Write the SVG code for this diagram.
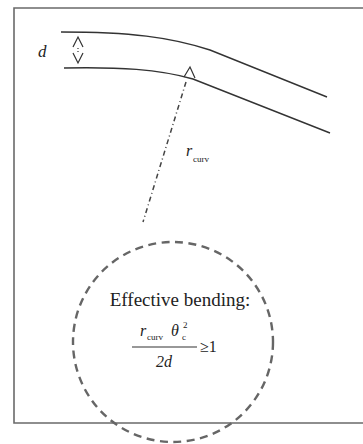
<svg xmlns="http://www.w3.org/2000/svg" width="363" height="444" viewBox="0 0 363 444">
<style>
.frame{fill:none;stroke:#6a6a6a;stroke-width:1.6}
.tube{fill:none;stroke:#333;stroke-width:1.4}
.thin{fill:none;stroke:#333;stroke-width:1.2}
.dashdot{fill:none;stroke:#444;stroke-width:1.5;stroke-dasharray:5 3 1 3}
.zone{fill:none;stroke:#666;stroke-width:2.4;stroke-dasharray:8 5.5}
.t{font-family:"Liberation Serif","Times New Roman",serif;fill:#222}
.i{font-style:italic}
</style>
<rect width="363" height="444" fill="#fff"/>
<g id="frame"><path class="frame" d="M370,8 H14 V423 H370"/></g>
<g id="tube">
<path class="tube" d="M61,32 C130,32 170,37 210,50 L327,97"/>
<path class="tube" d="M64,68 C120,67 158,69 193,79 L330,133"/>
</g>
<g id="width-marker">
<path class="thin" d="M73,47 L78,37 L83,47 M73,53 L78,63 L83,53"/>
<path class="thin" d="M78,48 V52" stroke-dasharray="1 2"/>
<text class="t i" x="38" y="57" font-size="17">d</text>
</g>
<g id="connectors">
<path class="thin" d="M184,77 L190,67 L195,78"/>
<path class="dashdot" d="M186,82 L143,222"/>
</g>
<g id="radius-label">
<text class="t i" x="186" y="156" font-size="16">r</text>
<text class="t" x="193" y="162" font-size="9">curv</text>
</g>
<g id="zone">
<circle class="zone" cx="173" cy="342" r="100"/>
<text class="t" x="180" y="306" font-size="19" text-anchor="middle">Effective bending:</text>
<text class="t i" x="140" y="336" font-size="16">r</text>
<text class="t" x="147" y="340" font-size="9">curv</text>
<text class="t i" x="171" y="336" font-size="16">θ</text>
<text class="t" x="182" y="340" font-size="9">c</text>
<text class="t" x="183" y="328" font-size="9">2</text>
<line x1="132" y1="347" x2="197" y2="347" stroke="#333" stroke-width="1.2"/>
<text class="t i" x="164" y="367" font-size="16" text-anchor="middle">2d</text>
<text class="t" x="200" y="352" font-size="16">≥1</text>
</g>
</svg>
